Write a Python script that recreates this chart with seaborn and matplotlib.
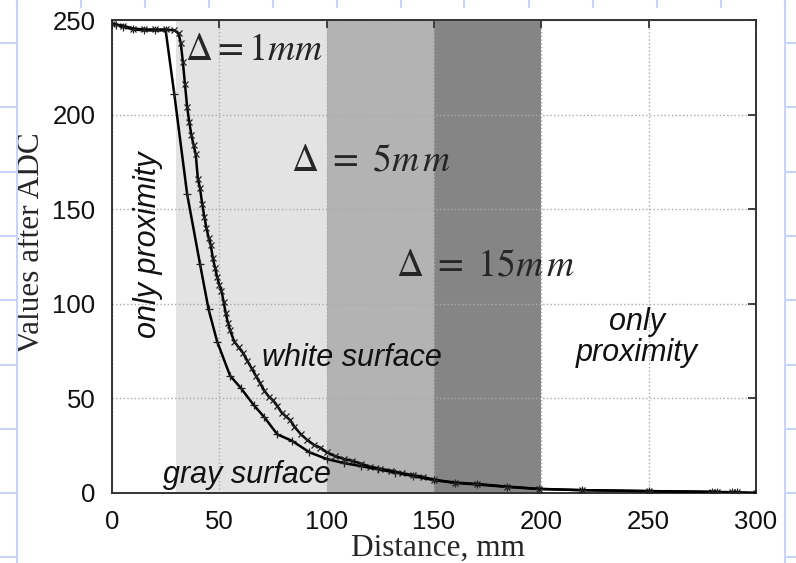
import numpy as np
import pandas as pd
import seaborn as sns
import matplotlib.pyplot as plt
from matplotlib.lines import Line2D

# zones (mm) and their shading
zone_edges = [30, 100, 150, 200]
zone_colors = ['#e3e3e3', '#b3b3b3', '#858585']

# white surface (dense x markers)
white_x = [0, 5, 10, 15, 20, 25, 29, 31, 32, 33, 34, 35, 36, 37, 38, 39, 40, 41, 42, 43,
           44, 45, 46, 47, 48, 49, 50, 51, 52, 53, 54, 55, 57, 59, 61, 63, 65, 67, 69, 71,
           73, 75, 77, 79, 81, 83, 85, 88, 91, 94, 97, 100, 104, 108, 112, 116, 120, 125,
           130, 135, 140, 145, 150, 160, 170, 184, 199, 219, 250, 279.5, 282, 289, 291, 300]
white_y = [248, 247, 245.5, 245, 245, 245, 244.5, 243, 238, 228, 216, 204, 196, 189, 184, 179, 166, 161, 153, 146,
           140, 135, 131, 124, 119, 114, 110, 107, 101, 95, 90, 86, 80, 77, 74, 70, 66, 62, 58, 54,
           51, 49, 46, 42.5, 40.5, 38.5, 35, 31, 28, 25.5, 24, 21.5, 19.5, 18, 17, 15.5, 14, 12.8,
           11.8, 10.5, 9.5, 8.5, 7, 5.5, 4.8, 3.4, 2.2, 1.5, 1, 0.6, 0.5, 0.4, 0.3, 0]

# gray surface (sparse + markers)
gray_x = [0, 2, 5, 10, 15, 20, 25, 29, 35, 41, 45, 49, 55, 60, 66, 71, 77, 84, 92, 100,
          108, 116, 124, 132, 140, 150, 160, 170, 184, 199, 219, 250, 279.5, 282, 289, 291, 300]
gray_y = [248, 247.5, 246.5, 245, 244.5, 244.5, 244.5, 211, 158, 121, 97, 80, 62, 55.5, 46.5, 40, 31, 27.5, 21.5, 18,
          15.8, 14.2, 12.5, 10.8, 9, 6.8, 5.3, 4.5, 3.2, 2.1, 1.5, 1, 0.6, 0.5, 0.4, 0.3, 0]

x_ticks = [0, 50, 100, 150, 200, 250, 300]
y_ticks = [0, 50, 100, 150, 200, 250]

df_white = pd.DataFrame({'Distance': white_x, 'ADC': white_y})
df_gray = pd.DataFrame({'Distance': gray_x, 'ADC': gray_y})

sns.set_theme(style='white')
plt.rcParams['font.family'] = ['Liberation Sans', 'DejaVu Sans']
plt.rcParams['mathtext.fontset'] = 'stix'

fig = plt.figure(figsize=(7.96, 5.63), dpi=100)
fig.patch.set_facecolor('white')
ax = fig.add_axes([112 / 796, 1 - 493 / 563, 644 / 796, 473 / 563])

# graph-paper decoration of the slide background
blue = '#c9d3fa'
W, H = 796, 563
for xp in [16.5, 785]:
    fig.add_artist(Line2D([xp / W, xp / W], [0, 1], color=blue, lw=1.5))
for yp in np.arange(43, 563, 64.3):
    fig.add_artist(Line2D([0, 16.5 / W], [1 - yp / H, 1 - yp / H], color=blue, lw=1.5))
    fig.add_artist(Line2D([785 / W, 1], [1 - yp / H, 1 - yp / H], color=blue, lw=1.5))
for xp in np.arange(16.5, 790, 64.0):
    fig.add_artist(Line2D([xp / W, xp / W], [1, 1 - 7 / H], color=blue, lw=1.5))

for i, c in enumerate(zone_colors):
    ax.axvspan(zone_edges[i], zone_edges[i + 1], color=c, lw=0, zorder=0.2)

sns.lineplot(data=df_white, x='Distance', y='ADC', ax=ax, color='black', lw=1.8,
             marker='x', markersize=5, mew=0.9, mec='#222222', estimator=None, sort=False, zorder=3)
sns.lineplot(data=df_gray, x='Distance', y='ADC', ax=ax, color='black', lw=1.8,
             marker='+', markersize=6, mew=0.9, mec='#222222', estimator=None, sort=False, zorder=3)

ax.set_xlim(0, 300)
ax.set_ylim(0, 250)
ax.set_xticks(x_ticks)
ax.set_yticks(y_ticks)
ax.set_axisbelow(True)
ax.grid(True, color='#aaaaaa', linestyle=':', linewidth=1.0)
for s in ax.spines.values():
    s.set_color('#333333')
    s.set_linewidth(1.4)
ax.tick_params(direction='in', length=6, width=1.3, color='#333333', top=True, right=True,
               labelsize=18.5, pad=12, labelcolor='#111111')

ax.set_xlabel('Distance, mm', fontsize=22.5, family='Liberation Serif', labelpad=0)
ax.set_ylabel('Values after ADC', fontsize=22.5, family='Liberation Serif')
ax.yaxis.set_label_coords(-0.1025, 0.53)
ax.xaxis.label.set_x(0.506)

ax.text(34, 234, r'$\Delta = 1mm$', fontsize=27, ha='left', va='center')
ax.text(83.5, 176, r'$\Delta\ =\ 5m\,m$', fontsize=27, ha='left', va='center')
ax.text(132.5, 120.5, r'$\Delta\ =\ 15m\,m$', fontsize=27, ha='left', va='center')

ital = dict(fontsize=22, style='italic', color='#111111')
ax.text(16.8, 131, 'only proximity', rotation=90, ha='center', va='center', **ital)
ax.text(69.9, 67, 'white surface', ha='left', va='baseline', **ital)
ax.text(23.8, 5.3, 'gray surface', ha='left', va='baseline', **ital)
ax.text(244.6, 82, 'only\nproximity', ha='center', va='center', linespacing=1.05, **ital)

fig.savefig('out.png', dpi=100)
